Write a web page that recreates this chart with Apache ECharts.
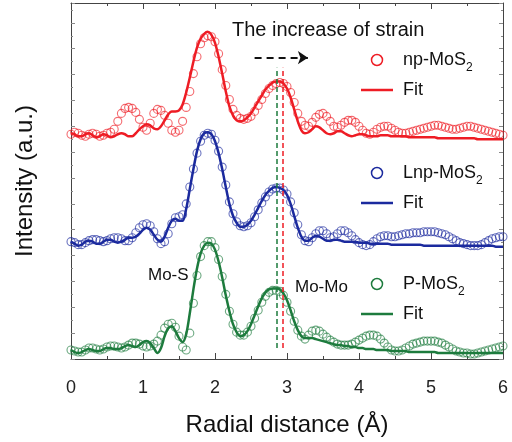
<!DOCTYPE html>
<html>
<head>
<meta charset="utf-8">
<script src="https://cdn.jsdelivr.net/npm/echarts@6/dist/echarts.min.js"></script>
<style>
  html, body { margin: 0; padding: 0; background: #fff; }
  #main { width: 512px; height: 442px; }
</style>
</head>
<body>
<div id="main"></div>
<script>
  // radial distance grid (Å)
  var radius = [
    0, 0.05, 0.1, 0.15, 0.2, 0.25, 0.3, 0.35, 0.4, 0.45,
    0.5, 0.55, 0.6, 0.65, 0.7, 0.75, 0.8, 0.85, 0.9, 0.95,
    1, 1.05, 1.1, 1.15, 1.2, 1.25, 1.3, 1.35, 1.4, 1.45,
    1.5, 1.55, 1.6, 1.65, 1.7, 1.75, 1.8, 1.85, 1.9, 1.95,
    2, 2.05, 2.1, 2.15, 2.2, 2.25, 2.3, 2.35, 2.4, 2.45,
    2.5, 2.55, 2.6, 2.65, 2.7, 2.75, 2.8, 2.85, 2.9, 2.95,
    3, 3.05, 3.1, 3.15, 3.2, 3.25, 3.3, 3.35, 3.4, 3.45,
    3.5, 3.55, 3.6, 3.65, 3.7, 3.75, 3.8, 3.85, 3.9, 3.95,
    4, 4.05, 4.1, 4.15, 4.2, 4.25, 4.3, 4.35, 4.4, 4.45,
    4.5, 4.55, 4.6, 4.65, 4.7, 4.75, 4.8, 4.85, 4.9, 4.95,
    5, 5.05, 5.1, 5.15, 5.2, 5.25, 5.3, 5.35, 5.4, 5.45,
    5.5, 5.55, 5.6, 5.65, 5.7, 5.75, 5.8, 5.85, 5.9, 5.95,
    6
  ]

  // np-MoS2 (offset curve, top)
  var npData = [
    226, 228, 227, 225, 224, 226, 227, 226, 224, 225,
    227, 228, 231, 239, 247, 252, 253, 252, 248, 241,
    233, 230, 237, 247, 251, 250, 245, 237, 230, 228,
    230, 239, 253, 269, 287, 304, 317, 323, 325, 324,
    319, 307, 291, 275, 261, 251, 245, 242, 241, 242,
    244, 249, 255, 261, 267, 272, 275, 277, 278, 277,
    274, 268, 258, 247, 239, 235, 234, 238, 243, 246,
    247, 244, 239, 234, 233, 235, 238, 240, 240, 238,
    234, 230, 227, 226, 228, 231, 233, 234, 234, 232,
    230, 228, 227, 227, 228, 229, 230, 231, 232, 233,
    234, 235, 235, 234, 233, 232, 231, 231, 232, 233,
    234, 234, 233, 232, 231, 230, 229, 228, 227, 226,
    225
  ]
  var npFit = [
    227, 226, 224, 224, 226, 227, 225, 223, 224, 226,
    225, 223, 224, 226, 227, 226, 224, 224, 227, 231,
    234, 236, 235, 232, 231, 234, 240, 246, 249, 249,
    250, 256, 268, 283, 299, 313, 322, 327, 329, 326,
    318, 304, 287, 269, 254, 245, 240, 239, 240, 243,
    247, 253, 259, 265, 271, 275, 278, 279, 279, 277,
    272, 263, 251, 239, 230, 227, 228, 231, 234, 233,
    230, 227, 226, 227, 229, 229, 227, 225, 224, 225,
    226, 226, 225, 224, 224, 224, 225, 225, 225, 224,
    224, 224, 224, 224, 223, 223, 223, 223, 223, 223,
    223, 223, 222, 222, 222, 222, 222, 222, 222, 222,
    222, 222, 222, 221, 221, 221, 221, 221, 221, 221,
    221
  ]

  // Lnp-MoS2 (middle)
  var lnpData = [
    118, 117, 115, 115, 117, 119, 120, 120, 119, 118,
    119, 121, 122, 122, 121, 119, 119, 122, 127, 132,
    135, 136, 134, 128, 121, 116, 118, 126, 136, 142,
    143, 145, 156, 173, 191, 207, 219, 225, 227, 226,
    220, 209, 193, 175, 158, 146, 138, 134, 133, 134,
    137, 143, 150, 157, 163, 168, 171, 172, 172, 170,
    166, 158, 147, 135, 125, 119, 118, 122, 126, 129,
    129, 126, 122, 123, 126, 129, 129, 127, 124, 120,
    117, 115, 114, 115, 118, 121, 123, 124, 124, 123,
    123, 124, 125, 126, 126, 127, 127, 127, 128, 128,
    128, 128, 127, 126, 125, 123, 121, 119, 117, 116,
    115, 114, 114, 114, 115, 117, 119, 121, 122, 123,
    123
  ]
  var lnpFit = [
    118, 116, 114, 115, 118, 119, 118, 116, 116, 118,
    120, 120, 118, 117, 118, 120, 122, 122, 123, 126,
    130, 132, 130, 125, 120, 118, 123, 132, 139, 141,
    139, 139, 151, 171, 191, 209, 221, 227, 228, 226,
    219, 207, 191, 173, 156, 144, 137, 133, 133, 135,
    139, 145, 152, 159, 165, 169, 172, 173, 172, 170,
    165, 156, 144, 132, 123, 119, 119, 122, 124, 123,
    121, 119, 119, 120, 120, 119, 118, 118, 118, 118,
    117, 117, 117, 116, 116, 116, 116, 116, 116, 115,
    115, 115, 115, 115, 115, 115, 115, 115, 114, 114,
    114, 114, 114, 114, 114, 114, 114, 114, 114, 114,
    114, 114, 114, 114, 114, 114, 114, 114, 113, 113,
    113
  ]

  // P-MoS2 (bottom)
  var pData = [
    9, 8, 7, 7, 9, 11, 11, 10, 9, 10,
    12, 13, 13, 12, 11, 12, 14, 16, 16, 15,
    13, 12, 13, 15, 18, 24, 31, 35, 36, 32,
    23, 12, 9, 26, 56, 84, 103, 114, 118, 118,
    112, 100, 83, 65, 48, 35, 27, 24, 24, 27,
    33, 41, 49, 57, 63, 67, 69, 69, 68, 64,
    57, 48, 38, 29, 23, 20, 24, 28, 29, 28,
    25, 22, 19, 17, 15, 14, 14, 14, 15, 17,
    19, 21, 23, 24, 24, 23, 20, 16, 12, 9,
    8, 8, 9, 11, 13, 15, 16, 17, 18, 18,
    18, 18, 17, 16, 14, 12, 10, 8, 7, 6,
    6, 5, 5, 6, 7, 8, 9, 10, 11, 12,
    13
  ]
  var pFit = [
    9, 7, 6, 7, 9, 10, 9, 8, 8, 10,
    11, 11, 10, 10, 11, 13, 14, 13, 12, 14,
    17, 18, 16, 11, 6, 11, 23, 31, 33, 28,
    21, 17, 25, 46, 70, 91, 106, 114, 117, 116,
    110, 98, 82, 64, 48, 35, 27, 23, 24, 28,
    35, 44, 53, 61, 67, 70, 71, 71, 70, 66,
    59, 49, 38, 29, 23, 21, 21, 21, 20, 19,
    18, 17, 16, 15, 14, 14, 13, 13, 12, 12,
    11, 11, 10, 10, 10, 9, 9, 9, 9, 8,
    8, 8, 8, 8, 7, 7, 7, 7, 7, 7,
    7, 7, 6, 6, 6, 6, 6, 6, 6, 6,
    6, 6, 6, 6, 6, 6, 6, 6, 6, 6,
    6
  ]

  // Mo-Mo peak markers (P-MoS2, np-MoS2) and the strain arrow
  var peakMarks = [2.86, 2.94]
  var arrowSpan = [2.55, 3.29]

  var FONT = 'Liberation Sans, Arial, Helvetica, sans-serif'
  var RED = '#ee1c24', BLUE = '#1b2a9e', GREEN = '#1d7b3d'

  function pairs(vals) {
    return radius.map(function (r, i) { return [r, vals[i]] })
  }

  function dataSeries(name, vals, color) {
    return {
      name: name,
      type: 'scatter',
      symbol: 'circle',
      symbolSize: 8,
      data: pairs(vals),
      itemStyle: { color: 'rgba(0,0,0,0)', borderColor: color, borderWidth: 1.1, opacity: 0.65 },
      silent: true,
      z: 2
    }
  }

  function fitSeries(name, vals, color) {
    return {
      name: name,
      type: 'line',
      data: pairs(vals),
      showSymbol: false,
      smooth: 0.3,
      lineStyle: { color: color, width: 2.5 },
      silent: true,
      z: 3
    }
  }

  function legendItems(y, label, color) {
    return [
      { type: 'circle', shape: { cx: 377, cy: y, r: 5.5 }, style: { fill: 'none', stroke: color, lineWidth: 1.5 }, z: 10 },
      { type: 'text', x: 403, y: y, style: {
          text: '{a|' + label + '}{b|2}', textVerticalAlign: 'middle', fill: '#111',
          rich: {
            a: { fontSize: 18, fontFamily: FONT, lineHeight: 28, fill: '#111' },
            b: { fontSize: 12, fontFamily: FONT, lineHeight: 12, verticalAlign: 'bottom', fill: '#111' }
          }
        }, z: 10 },
      { type: 'line', shape: { x1: 361, y1: y + 30, x2: 393, y2: y + 30 }, style: { stroke: color, lineWidth: 2.5 }, z: 10 },
      { type: 'text', x: 403, y: y + 30, style: { text: 'Fit', fontSize: 18, fontFamily: FONT, fill: '#111', textVerticalAlign: 'middle' }, z: 10 }
    ]
  }

  var chart = echarts.init(document.getElementById('main'))

  var xAxisCommon = {
    type: 'value', min: 0, max: 6, interval: 1,
    axisLine: { show: true, onZero: false, lineStyle: { color: '#444', width: 1 } },
    axisTick: { inside: true, length: 6, lineStyle: { color: '#444' } },
    minorTick: { show: true, splitNumber: 2, length: 3, lineStyle: { color: '#444' } },
    splitLine: { show: false }
  }
  var yAxisCommon = {
    type: 'value', min: 0, max: 358, interval: 26,
    axisLine: { show: true, onZero: false, lineStyle: { color: '#444', width: 1 } },
    axisTick: { show: true, inside: true, length: 4, lineStyle: { color: '#888' } },
    minorTick: { show: true, splitNumber: 2, length: 2, lineStyle: { color: '#888' } },
    axisLabel: { show: false },
    splitLine: { show: false }
  }

  var option = {
    backgroundColor: '#fff',
    animation: false,
    grid: { left: 71, right: 9, top: 3, bottom: 81 },
    xAxis: [
      Object.assign({}, xAxisCommon, {
        position: 'bottom',
        axisLabel: { fontSize: 18, color: '#222', margin: 20, fontFamily: FONT },
        name: 'Radial distance (Å)',
        nameLocation: 'middle',
        nameGap: 54,
        nameTextStyle: { fontSize: 24, color: '#111', fontFamily: FONT }
      }),
      Object.assign({}, xAxisCommon, { position: 'top', axisLabel: { show: false } })
    ],
    yAxis: [
      Object.assign({}, yAxisCommon, {
        position: 'left',
        name: 'Intensity (a.u.)',
        nameLocation: 'middle',
        nameGap: 34,
        nameTextStyle: { fontSize: 24, color: '#111', fontFamily: FONT }
      }),
      Object.assign({}, yAxisCommon, { position: 'right' })
    ],
    series: [
      dataSeries('np-MoS2', npData, RED),
      dataSeries('Lnp-MoS2', lnpData, BLUE),
      dataSeries('P-MoS2', pData, GREEN),
      fitSeries('np-MoS2 fit', npFit, RED),
      fitSeries('Lnp-MoS2 fit', lnpFit, BLUE),
      Object.assign(fitSeries('P-MoS2 fit', pFit, GREEN), {
        markLine: {
          silent: true,
          symbol: 'none',
          label: { show: false },
          animation: false,
          z: 6,
          data: [
            [{ coord: [peakMarks[0], 11], lineStyle: { color: GREEN, type: [5, 3], width: 1.5 } }, { coord: [peakMarks[0], 293] }],
            [{ coord: [peakMarks[1], 11], lineStyle: { color: RED, type: [5, 3], width: 1.5 } }, { coord: [peakMarks[1], 293] }],
            [{ coord: [arrowSpan[0], 303], symbol: 'none', lineStyle: { color: '#111', type: [7, 5], width: 2 } },
             { coord: [arrowSpan[1], 303], symbol: 'arrow', symbolSize: 10 }]
          ]
        }
      })
    ],
    graphic: [
      { type: 'text', x: 232, y: 30, style: { text: 'The increase of strain', fontSize: 20, fontFamily: FONT, fill: '#111', textVerticalAlign: 'middle' }, z: 10 },
      { type: 'text', x: 148, y: 275, style: { text: 'Mo-S', fontSize: 17, fontFamily: FONT, fill: '#111', textVerticalAlign: 'middle' }, z: 10 },
      { type: 'text', x: 295, y: 287, style: { text: 'Mo-Mo', fontSize: 17, fontFamily: FONT, fill: '#111', textVerticalAlign: 'middle' }, z: 10 }
    ].concat(legendItems(60, 'np-MoS', RED))
     .concat(legendItems(173, 'Lnp-MoS', BLUE))
     .concat(legendItems(284, 'P-MoS', GREEN))
  }

  chart.setOption(option)
  window.addEventListener('resize', function () { chart.resize() })
</script>
</body>
</html>
